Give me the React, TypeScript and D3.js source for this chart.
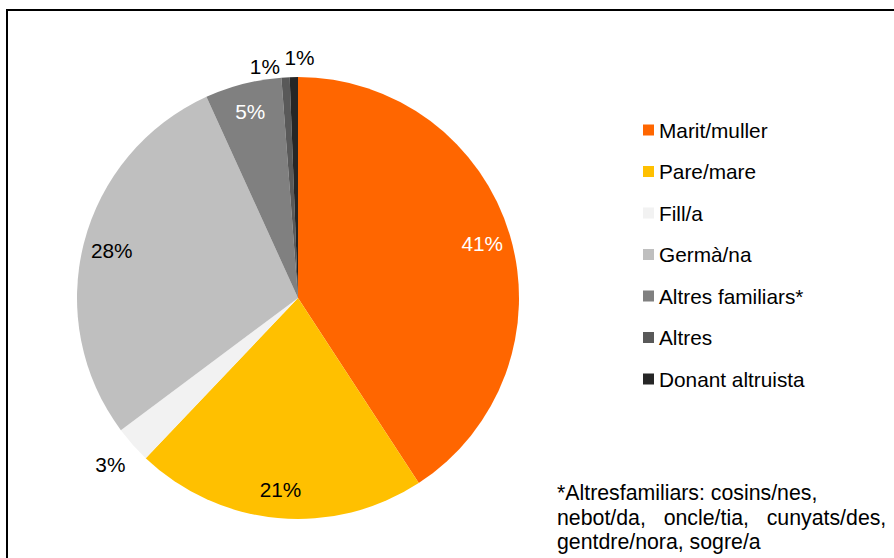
import React from "react";
import * as d3 from "d3";

const categories = ["Marit/muller", "Pare/mare", "Fill/a", "Germà/na", "Altres familiars*", "Altres", "Donant altruista"];
const values = [40.8, 21.3, 2.7, 28.4, 5.6, 0.6, 0.6];
const labels = ["41%", "21%", "3%", "28%", "5%", "1%", "1%"];
const colors = ["#FF6600", "#FFC000", "#F2F2F2", "#BFBFBF", "#808080", "#595959", "#262626"];
const footnote = ["*Altresfamiliars: cosins/nes,", "nebot/da,  oncle/tia,  cunyats/des,", "gentdre/nora, sogre/a"];

const W = 894;
const H = 558;
const cx = 298;
const cy = 298;
const R = 221;
const FONT = "'Liberation Sans', Arial, sans-serif";
const FS = 20.8;
const FS_NOTE = 21.3;

export default function App() {
  const pie = d3.pie<number>().sort(null).value((d) => d)(values);
  const arc = d3.arc<d3.PieArcDatum<number>>().innerRadius(0).outerRadius(R);
  const total = d3.sum(values);

  // label placement: inside for big slices, outside for tiny ones
  const labelPos = pie.map((p, i) => {
    const share = values[i] / total;
    const mid = (p.startAngle + p.endAngle) / 2;
    let r = share < 0.04 ? R * 1.135 : R * 0.87;
    let dx = 0;
    if (share < 0.01) {
      // spread two adjacent tiny labels
      dx = i === 5 ? -20 : 6;
      r = i === 5 ? R * 1.05 : R * 1.09;
    }
    return { x: cx + Math.sin(mid) * r + dx, y: cy - Math.cos(mid) * r };
  });

  const legendY = d3.scalePoint<number>().domain(d3.range(categories.length)).range([130, 379]);
  const isLight = (i: number) => i === 0 || i === 4;

  return (
    <svg width={W} height={H} style={{ position: "absolute", left: 0, top: 0 }} fontFamily={FONT}>
      <rect x={0} y={0} width={W} height={H} fill="#fff" />
      <rect x={7} y={10} width={W + 20} height={H + 20} fill="none" stroke="#000" strokeWidth={2} />
      <g transform={`translate(${cx},${cy})`}>
        {pie.map((p, i) => (
          <path key={i} d={arc(p) || ""} fill={colors[i]} />
        ))}
      </g>
      {labelPos.map((l, i) => (
        <text
          key={i}
          x={l.x}
          y={l.y}
          textAnchor="middle"
          dominantBaseline="central"
          fontSize={FS}
          fill={isLight(i) ? "#fff" : "#000"}
        >
          {labels[i]}
        </text>
      ))}
      {categories.map((c, i) => (
        <g key={c} transform={`translate(643,${legendY(i)})`}>
          <rect x={0} y={-5.5} width={11} height={11} fill={colors[i]} />
          <text x={16} y={0} dominantBaseline="central" fontSize={FS} fill="#000">
            {c}
          </text>
        </g>
      ))}
      {footnote.map((t, i) => (
        <text
          key={i}
          x={557}
          y={500 + i * 24.5}
          fontSize={FS_NOTE}
          fill="#000"
          wordSpacing={i === 1 ? 3 : 0}
          style={{ whiteSpace: "pre" }}
        >
          {t}
        </text>
      ))}
    </svg>
  );
}
